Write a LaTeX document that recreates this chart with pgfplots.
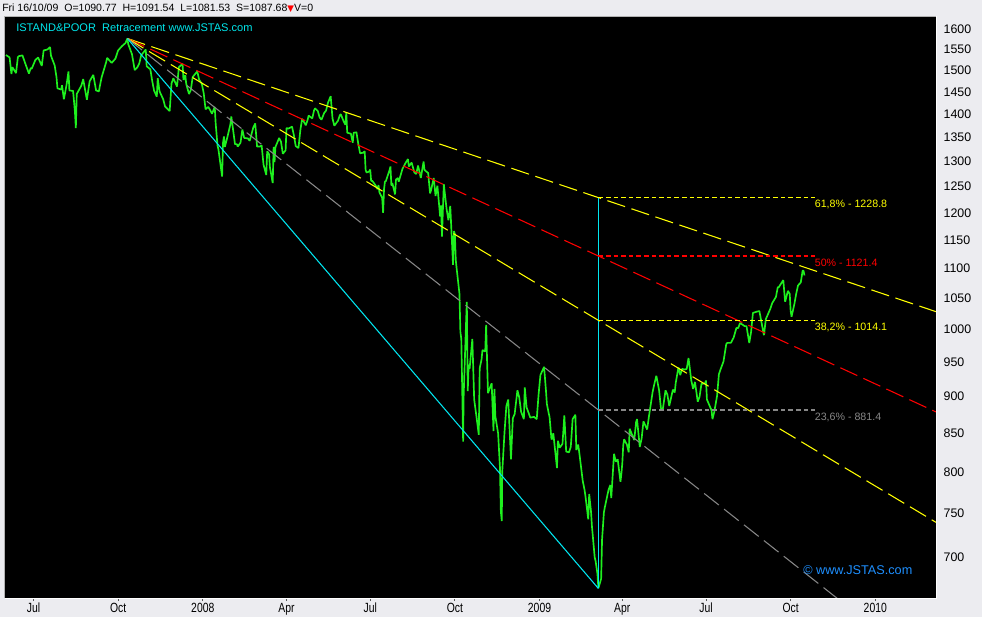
\documentclass[border=0pt]{standalone}
\usepackage{fontspec}
\setmainfont{Liberation Sans}
\newfontfamily\dejavu{DejaVu Sans}
\usepackage{graphicx}
\usepackage{pgfplots}
\usepackage{pgfplotstable}
\pgfplotsset{compat=1.18}
\definecolor{bggray}{RGB}{236,236,240}
\definecolor{pricegreen}{RGB}{30,240,30}
\definecolor{fanyellow}{RGB}{255,255,0}
\definecolor{fanred}{RGB}{255,0,0}
\definecolor{fangray}{RGB}{135,135,135}
\definecolor{fancyan}{RGB}{0,230,240}
\definecolor{titlecyan}{RGB}{0,230,235}
\definecolor{jstasblue}{RGB}{30,144,255}

% S&P 500, x = days since 1 Jan 2008
\pgfplotstableread{
day close
-214 1536
-210 1530
-208 1491
-207 1507
-203 1493
-201 1531
-200 1533
-196 1535
-194 1522
-189 1492
-187 1505
-186 1503
-182 1524
-179 1530
-175 1510
-173 1547
-169 1549
-166 1555
-165 1534
-161 1511
-159 1483
-158 1458
-154 1455
-153 1465
-151 1433
-148 1467
-146 1497
-145 1453
-141 1452
-139 1406
-138 1370
-137 1445
-132 1464
-130 1479
-126 1432
-123 1474
-119 1489
-116 1453
-113 1451
-110 1483
-105 1519
-104 1529
-99 1517
-95 1527
-92 1547
-88 1557
-84 1565
-82 1576
-81 1562
-77 1538
-74 1500
-71 1507
-69 1516
-67 1535
-62 1549
-61 1509
-57 1502
-55 1475
-53 1453
-50 1439
-49 1481
-47 1451
-43 1433
-41 1417
-36 1407
-34 1469
-32 1481
-28 1462
-26 1507
-22 1515
-21 1477
-19 1488
-18 1468
-15 1445
-13 1454
-11 1484
-6 1497
-4 1478
-1 1468
1 1447
3 1411
6 1416
8 1409
10 1401
13 1416
14 1380
16 1333
17 1325
21 1270
22 1339
23 1352
24 1330
27 1353
30 1378
31 1395
35 1336
37 1336
38 1331
41 1339
43 1367
45 1349
49 1348
51 1343
55 1372
57 1380
59 1331
62 1331
64 1333
66 1294
69 1273
70 1321
72 1315
73 1288
76 1257
77 1330
78 1299
79 1330
83 1349
85 1341
87 1316
90 1323
91 1370
93 1369
97 1373
99 1355
101 1332
104 1328
106 1365
108 1390
112 1376
114 1388
115 1397
119 1391
121 1409
122 1413
125 1407
127 1393
129 1388
132 1403
134 1408
136 1425
139 1440
141 1391
143 1375
147 1386
149 1398
150 1400
153 1385
155 1377
156 1404
157 1360
161 1358
163 1339
164 1360
167 1361
169 1337
171 1317
174 1318
176 1321
177 1283
178 1278
181 1280
182 1284
183 1261
184 1262
188 1252
190 1245
191 1253
192 1239
195 1228
196 1200
197 1245
198 1260
199 1261
203 1283
204 1290
205 1252
206 1257
209 1235
210 1264
212 1267
213 1260
217 1285
220 1296
223 1305
224 1290
227 1298
230 1278
232 1275
234 1292
237 1267
240 1300
241 1283
245 1277
247 1237
248 1242
251 1267
253 1232
255 1252
258 1193
259 1214
260 1156
261 1206
262 1255
265 1207
267 1186
269 1213
272 1106
273 1166
274 1161
275 1114
276 1099
279 1057
280 996
281 985
282 910
283 839
283.5 899
286 1003
287 1044
288 908
289 946
290 940
293 985
295 896
297 877
300 848
301 941
303 954
304 968
307 966
308 1007
309 953
310 905
314 919
316 853
317 911
318 873
321 850
323 806
324 752
325 741
325.5 800
328 852
330 887
332 896
335 816
337 870
339 876
342 909
344 899
346 879
349 869
350 913
352 885
356 871
360 872
363 869
365 903
367 931
371 943
373 909
374 890
377 871
379 842
380 843
381 850
385 805
386 840
388 831
391 836
393 874
395 826
398 825
400 832
402 869
405 875
406 828
408 835
409 827
413 789
415 778
416 770
419 743
420 773
422 752
423 735
426 700
427 696
429 682
430 667
433 677
434 720
436 751
437 757
441 778
443 784
444 768
447 823
449 813
451 816
454 788
455 798
456 811
457 834
458 842
461 835
463 825
464 856
469 841
471 865
472 869
475 832
477 843
479 866
483 855
485 873
489 907
491 919
493 930
496 909
498 884
500 882
503 909
505 903
507 887
511 910
513 906
514 919
517 942
519 931
521 940
524 939
526 940
528 956
531 923
533 911
535 921
538 893
540 900
542 918
546 919
547 923
548 896
553 881
554 869
556 879
559 901
561 932
563 940
566 951
569 977
570 979
574 979
577 987
580 1002
582 1002
584 1010
587 1007
589 1005
591 1005
594 979
596 996
598 1026
602 1028
605 1029
609 998
610 991
612 1016
617 1033
619 1042
623 1052
625 1068
626 1068
631 1080
633 1044
636 1062
638 1057
639 1029
640 1020
643 1040
645 1057
647 1071
650 1076
652 1096
653 1096
654 1088
}\spx

\begin{document}
\begin{tikzpicture}[x=0.75pt,y=0.75pt]
\useasboundingbox (0,0) rectangle (982,617);
\fill[bggray] (0,0) rectangle (982,617);

\begin{axis}[
    at={(3.75pt,14.25pt)}, anchor=south west,
    scale only axis, width=698.25pt, height=436pt,
    xmin=-215, xmax=797, ymin=657, ymax=1631,
    ymode=log, log basis y=10,
    axis background/.style={fill=black},
    axis line style={draw=none},
    clip=true,
    xtick={-184,-92,0,91,182,274,366,456,547,639,731},
    xticklabels={\scalebox{0.78}[1]{Jul},\scalebox{0.78}[1]{Oct},\scalebox{0.78}[1]{2008},\scalebox{0.78}[1]{Apr},\scalebox{0.78}[1]{Jul},\scalebox{0.78}[1]{Oct},\scalebox{0.78}[1]{2009},\scalebox{0.78}[1]{Apr},\scalebox{0.78}[1]{Jul},\scalebox{0.78}[1]{Oct},\scalebox{0.78}[1]{2010}},
    xtick pos=left, tick align=outside, major tick length=2.5pt,
    xtick style={draw=gray!70!black, line width=0.75pt},
    xticklabel style={font=\fontsize{10}{11}\selectfont, inner sep=1pt},
    ytick={700,750,800,850,900,950,1000,1050,1100,1150,1200,1250,1300,1350,1400,1450,1500,1550,1600},
    yticklabels={700,750,800,850,900,950,1000,1050,1100,1150,1200,1250,1300,1350,1400,1450,1500,1550,1600},
    yticklabel pos=right, ytick pos=right,
    ytick style={draw=none},
    yminorticks=false, xminorticks=false,
    yticklabel style={font=\fontsize{9.3}{10}\selectfont, anchor=west, inner sep=0pt, xshift=3pt},
]
% price
\addplot[pricegreen, line width=1.25pt, line join=bevel] table[x=day, y=close] {\spx};

% fan lines from the Oct 2007 high
\addplot[fanyellow, line width=0.8pt, dash pattern=on 14pt off 5pt] coordinates {(-82,1576.09) (797,1028.0)};
\addplot[fanred, line width=0.8pt, dash pattern=on 14pt off 5pt] coordinates {(-82,1576.09) (797,878.8)};
\addplot[fanyellow, line width=0.8pt, dash pattern=on 14pt off 5pt] coordinates {(-82,1576.09) (797,739.5)};
\addplot[fangray, line width=0.8pt, dash pattern=on 14pt off 5pt] coordinates {(-82,1576.09) (797,581.2)};
\addplot[fancyan, line width=0.8pt] coordinates {(-82,1576.09) (430,666.79)};
\addplot[fancyan, line width=0.8pt] coordinates {(430,666.79) (430,1228.8)};

% retracement levels
\addplot[fanyellow, line width=1pt, dash pattern=on 3.5pt off 2.2pt] coordinates {(430,1228.8) (665,1228.8)};
\addplot[fanred, line width=1pt, dash pattern=on 3.5pt off 2.2pt] coordinates {(430,1121.4) (665,1121.4)};
\addplot[fanyellow, line width=1pt, dash pattern=on 3.5pt off 2.2pt] coordinates {(430,1014.1) (665,1014.1)};
\addplot[fangray, line width=1pt, dash pattern=on 3.5pt off 2.2pt] coordinates {(430,881.4) (665,881.4)};

\node[anchor=north west, inner sep=0pt, yshift=-2pt, text=fanyellow, font=\fontsize{8}{9}\selectfont] at (axis cs:665,1228.8) {61,8\% - 1228.8};
\node[anchor=north west, inner sep=0pt, yshift=-2pt, text=fanred, font=\fontsize{8}{9}\selectfont] at (axis cs:665,1121.4) {50\% - 1121.4};
\node[anchor=north west, inner sep=0pt, yshift=-2pt, text=fanyellow, font=\fontsize{8}{9}\selectfont] at (axis cs:665,1014.1) {38,2\% - 1014.1};
\node[anchor=north west, inner sep=0pt, yshift=-2pt, text=fangray, font=\fontsize{8}{9}\selectfont] at (axis cs:665,881.4) {23,6\% - 881.4};
\end{axis}

% frame
\draw[gray!60, line width=0.75] (4.6,19) -- (4.6,600.8) -- (936,600.8);
\draw[white, line width=0.75] (936.4,600.8) -- (936.4,18.6) -- (4.6,18.6);

% header and titles
\node[anchor=west, inner sep=0pt, font=\fontsize{7.9}{10}\selectfont] at (2,608.5)
  {Fri 16/10/09\ \ O=1090.77\ \ H=1091.54\ \ L=1081.53\ \ S=1087.68{\color{red}\dejavu\fontsize{6.5}{7}\selectfont ▼}V=0};
\node[anchor=west, inner sep=0pt, text=titlecyan, font=\fontsize{8.3}{10}\selectfont] at (16,589.5)
  {ISTAND\&POOR\ \ Retracement www.JSTAS.com};
\node[anchor=west, inner sep=0pt, text=jstasblue, font=\fontsize{9.5}{11}\selectfont] at (803,47)
  {© www.JSTAS.com};
\end{tikzpicture}
\end{document}
